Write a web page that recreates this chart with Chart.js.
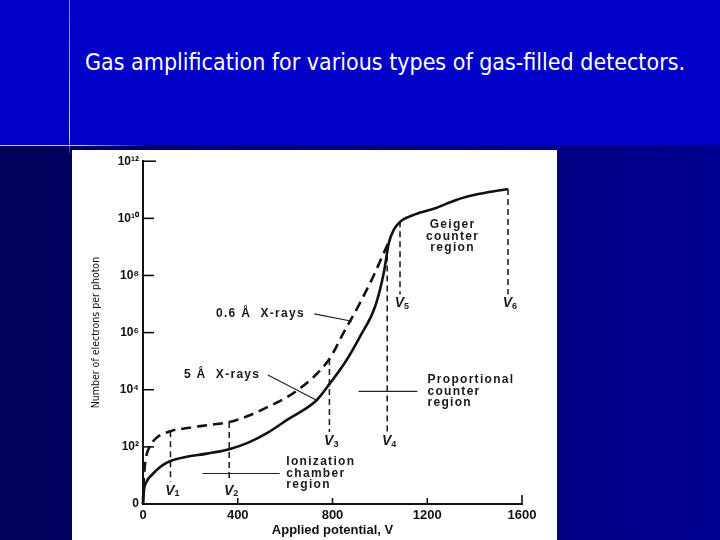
<!DOCTYPE html>
<html>
<head>
<meta charset="utf-8">
<script src="https://cdn.jsdelivr.net/npm/chart.js@4.4.0/dist/chart.umd.min.js"></script>
<style>
  html, body { margin: 0; padding: 0; }
  body {
    width: 720px; height: 540px; position: relative; overflow: hidden;
    background: linear-gradient(to right, #00005a, #000090);
  }
  #band { position: absolute; left: 0; top: 0; width: 720px; height: 145px; background: #0000c8; }
  #title {
    position: absolute; left: 85px; top: 49px; color: #fff; white-space: nowrap;
    font-family: "DejaVu Sans Condensed", "DejaVu Sans", sans-serif; font-stretch: condensed;
    font-size: 23px;
  }
  #vline { position: absolute; left: 69px; top: 0; width: 1px; height: 156px;
    background: linear-gradient(#7f7fff, #d0d0ff 88%, rgba(200,200,255,0)); }
  #hline { position: absolute; left: 0; top: 145px; width: 150px; height: 1px;
    background: linear-gradient(to right, #c0c0ff, #c0c0ff 55%, rgba(192,192,255,0)); }
  #box { position: absolute; left: 72px; top: 150px; width: 485px; height: 390px; background: #fff; }
</style>
</head>
<body>
<div id="band"></div>
<div id="title">Gas amplification for various types of gas-filled detectors.</div>
<div id="vline"></div>
<div id="hline"></div>
<div id="box"><canvas id="gasChart" width="485" height="390"></canvas></div>

<script>
// DATA

// 5 A X-rays (solid curve): applied potential V, electrons per photon
const solidV = [0, 4, 15, 40, 80, 116, 180, 270, 364, 442, 527, 613, 733, 790, 854, 915, 981, 1017, 1038, 1059, 1088, 1151, 1237, 1322, 1421, 1541];
const solidN = [1, 3, 6, 11, 22, 32, 44, 58, 83, 138, 316, 933, 4.3e3, 1.7e4, 9.3e4, 7.0e5, 8.7e6, 1.3e8, 1.4e9, 4.0e9, 7.9e9, 1.4e10, 2.3e10, 4.4e10, 7.2e10, 1.07e11];

// 0.6 A X-rays (dashed curve)
const dashedV = [0, 2, 6, 12, 25, 52, 116, 187, 272, 364, 442, 527, 655, 787, 847, 910, 974, 1017, 1042];
const dashedN = [1, 4, 15, 40, 90, 190, 355, 457, 575, 740, 1.2e3, 2.5e3, 1.0e4, 1.2e5, 1.0e6, 8.7e6, 1.0e8, 6.3e8, 1.8e9];

// voltage markers V1..V6 (dashed verticals)
const markerNames = ['1', '2', '3', '4', '5', '6'];
const markerV = [116, 364, 787, 1031, 1085, 1541];
const markerTop = [355, 740, 1.2e5, 5.0e8, 7.9e9, 1.07e11];
const markerBottom = [6, 6, 330, 330, 2.2e7, 2.2e7];

// region pointer lines
const ionLineV = [251, 577];
const ionLineN = [11.7, 11.7];
const propLineV = [910, 1158];
const propLineN = [8.7e3, 8.7e3];

// curve leader lines
const leader06V = [723, 882];
const leader06N = [4.5e6, 2.5e6];
const leader5V = [527, 733];
const leader5N = [3.3e4, 4.3e3];

// text labels: lines, anchor V, anchor N, align
const textLines = [
  ['Ionization', 'chamber', 'region'],
  ['Proportional', 'counter', 'region'],
  ['Geiger', 'counter', 'region'],
  ['0.6 \u00c5  X-rays'],
  ['5 \u00c5  X-rays']
];
const textV = [605, 1201, 1307, 308, 173];
const textN = [30, 2.2e4, 5.9e9, 4.5e6, 3.3e4];
const textAlign = ['left', 'left', 'center', 'left', 'left'];

// axes
const xTicks = [0, 400, 800, 1200, 1600];
const yTicks = [1, 1e2, 1e4, 1e6, 1e8, 1e10, 1e12];
const yTickLabels = ['0', '10\u00b2', '10\u2074', '10\u2076', '10\u2078', '10\u00b9\u2070', '10\u00b9\u00b2'];

// HELPERS
function toPoints(xs, ys) {
    return xs.map((x, i) => ({ x: x, y: ys[i] }));
}

function thinLine(xs, ys) {
    return {
        data: toPoints(xs, ys),
        showLine: true,
        borderColor: '#222',
        borderWidth: 1.2,
        pointRadius: 0
    };
}

const datasets = [
    {
        label: '5 A X-rays',
        data: toPoints(solidV, solidN),
        showLine: true,
        borderColor: '#111',
        borderWidth: 2.6,
        pointRadius: 0,
        cubicInterpolationMode: 'monotone',
        clip: false
    },
    {
        label: '0.6 A X-rays',
        data: toPoints(dashedV, dashedN),
        showLine: true,
        borderColor: '#111',
        borderWidth: 2.6,
        borderDash: [10, 6],
        pointRadius: 0,
        cubicInterpolationMode: 'monotone',
        clip: false
    },
    thinLine(ionLineV, ionLineN),
    thinLine(propLineV, propLineN),
    thinLine(leader06V, leader06N),
    thinLine(leader5V, leader5N)
];

for (let i = 0; i < markerV.length; i++) {
    datasets.push({
        data: [{ x: markerV[i], y: markerTop[i] }, { x: markerV[i], y: markerBottom[i] }],
        showLine: true,
        borderColor: '#222',
        borderWidth: 1.6,
        borderDash: [6, 4],
        pointRadius: 0
    });
}

// plugin for the inner ticks, region texts and V labels
const annotate = {
    id: 'annotate',
    afterDatasetsDraw(chart) {
        const ctx = chart.ctx;
        const xs = chart.scales.x;
        const ys = chart.scales.y;
        const area = chart.chartArea;
        ctx.save();
        ctx.strokeStyle = '#111';
        ctx.lineWidth = 1.6;

        // ticks pointing inward
        yTicks.forEach(v => {
            if (v === 1) return;
            const py = ys.getPixelForValue(v);
            ctx.beginPath();
            ctx.moveTo(area.left, py);
            ctx.lineTo(area.left + (v === 1e12 ? 13 : 11), py);
            ctx.stroke();
        });
        xTicks.forEach(v => {
            if (v === 0) return;
            const px = xs.getPixelForValue(v);
            ctx.beginPath();
            ctx.moveTo(px, area.bottom);
            ctx.lineTo(px, area.bottom - (v === 1600 ? 9 : 6));
            ctx.stroke();
        });

        // texts
        ctx.fillStyle = '#1a1a1a';
        ctx.font = 'bold 12px "Liberation Sans", Arial, sans-serif';
        ctx.letterSpacing = '1.3px';
        ctx.textBaseline = 'middle';
        textLines.forEach((lines, i) => {
            const px = xs.getPixelForValue(textV[i]);
            const py = ys.getPixelForValue(textN[i]);
            ctx.textAlign = textAlign[i];
            lines.forEach((s, j) => ctx.fillText(s, px, py + j * 11.5));
        });

        // V labels under the marker lines
        ctx.letterSpacing = '0px';
        markerV.forEach((v, i) => {
            const px = xs.getPixelForValue(v) + 2;
            const py = ys.getPixelForValue(markerBottom[i]) + 9;
            ctx.textAlign = 'right';
            ctx.font = 'italic bold 14px "Liberation Sans", Arial, sans-serif';
            ctx.fillText('V', px + 2, py);
            ctx.textAlign = 'left';
            ctx.font = 'bold 9px "Liberation Sans", Arial, sans-serif';
            ctx.fillText(markerNames[i], px + 2, py + 3);
        });
        ctx.restore();
    }
};

const ctx = document.getElementById('gasChart').getContext('2d');
new Chart(ctx, {
    type: 'scatter',
    data: { datasets: datasets },
    options: {
        responsive: false,
        animation: false,
        layout: { padding: { top: 10, right: 35, left: 0, bottom: 0 } },
        plugins: {
            legend: { display: false },
            tooltip: { enabled: false }
        },
        scales: {
            x: {
                type: 'linear',
                min: 0,
                max: 1600,
                afterBuildTicks: scale => { scale.ticks = xTicks.map(v => ({ value: v })); },
                afterFit: scale => { scale.height = 36; },
                grid: { display: false, drawTicks: false },
                border: { display: true, color: '#111', width: 2 },
                ticks: {
                    color: '#111',
                    padding: 4,
                    maxRotation: 0,
                    font: { family: 'Liberation Sans', size: 13, weight: 'bold' },
                    callback: value => String(value)
                },
                title: {
                    display: true,
                    text: 'Applied potential, V',
                    color: '#111',
                    padding: { top: 0, bottom: 2 },
                    font: { family: 'Liberation Sans', size: 13, weight: 'bold' }
                }
            },
            y: {
                type: 'logarithmic',
                min: 1,
                max: 1e12,
                afterBuildTicks: scale => { scale.ticks = yTicks.map(v => ({ value: v })); },
                afterFit: scale => { scale.width = 71; },
                grid: { display: false, drawTicks: false },
                border: { display: true, color: '#111', width: 2 },
                ticks: {
                    color: '#111',
                    padding: 4,
                    font: { family: 'Liberation Sans', size: 12, weight: 'bold' },
                    callback: (value, index) => yTickLabels[index]
                },
                title: {
                    display: true,
                    text: 'Number of electrons per photon',
                    color: '#111',
                    padding: { top: 18, bottom: 0 },
                    font: { family: '"DejaVu Sans Condensed", "Liberation Sans", sans-serif', size: 10.5 }
                }
            }
        }
    },
    plugins: [annotate]
});
</script>
</body>
</html>
